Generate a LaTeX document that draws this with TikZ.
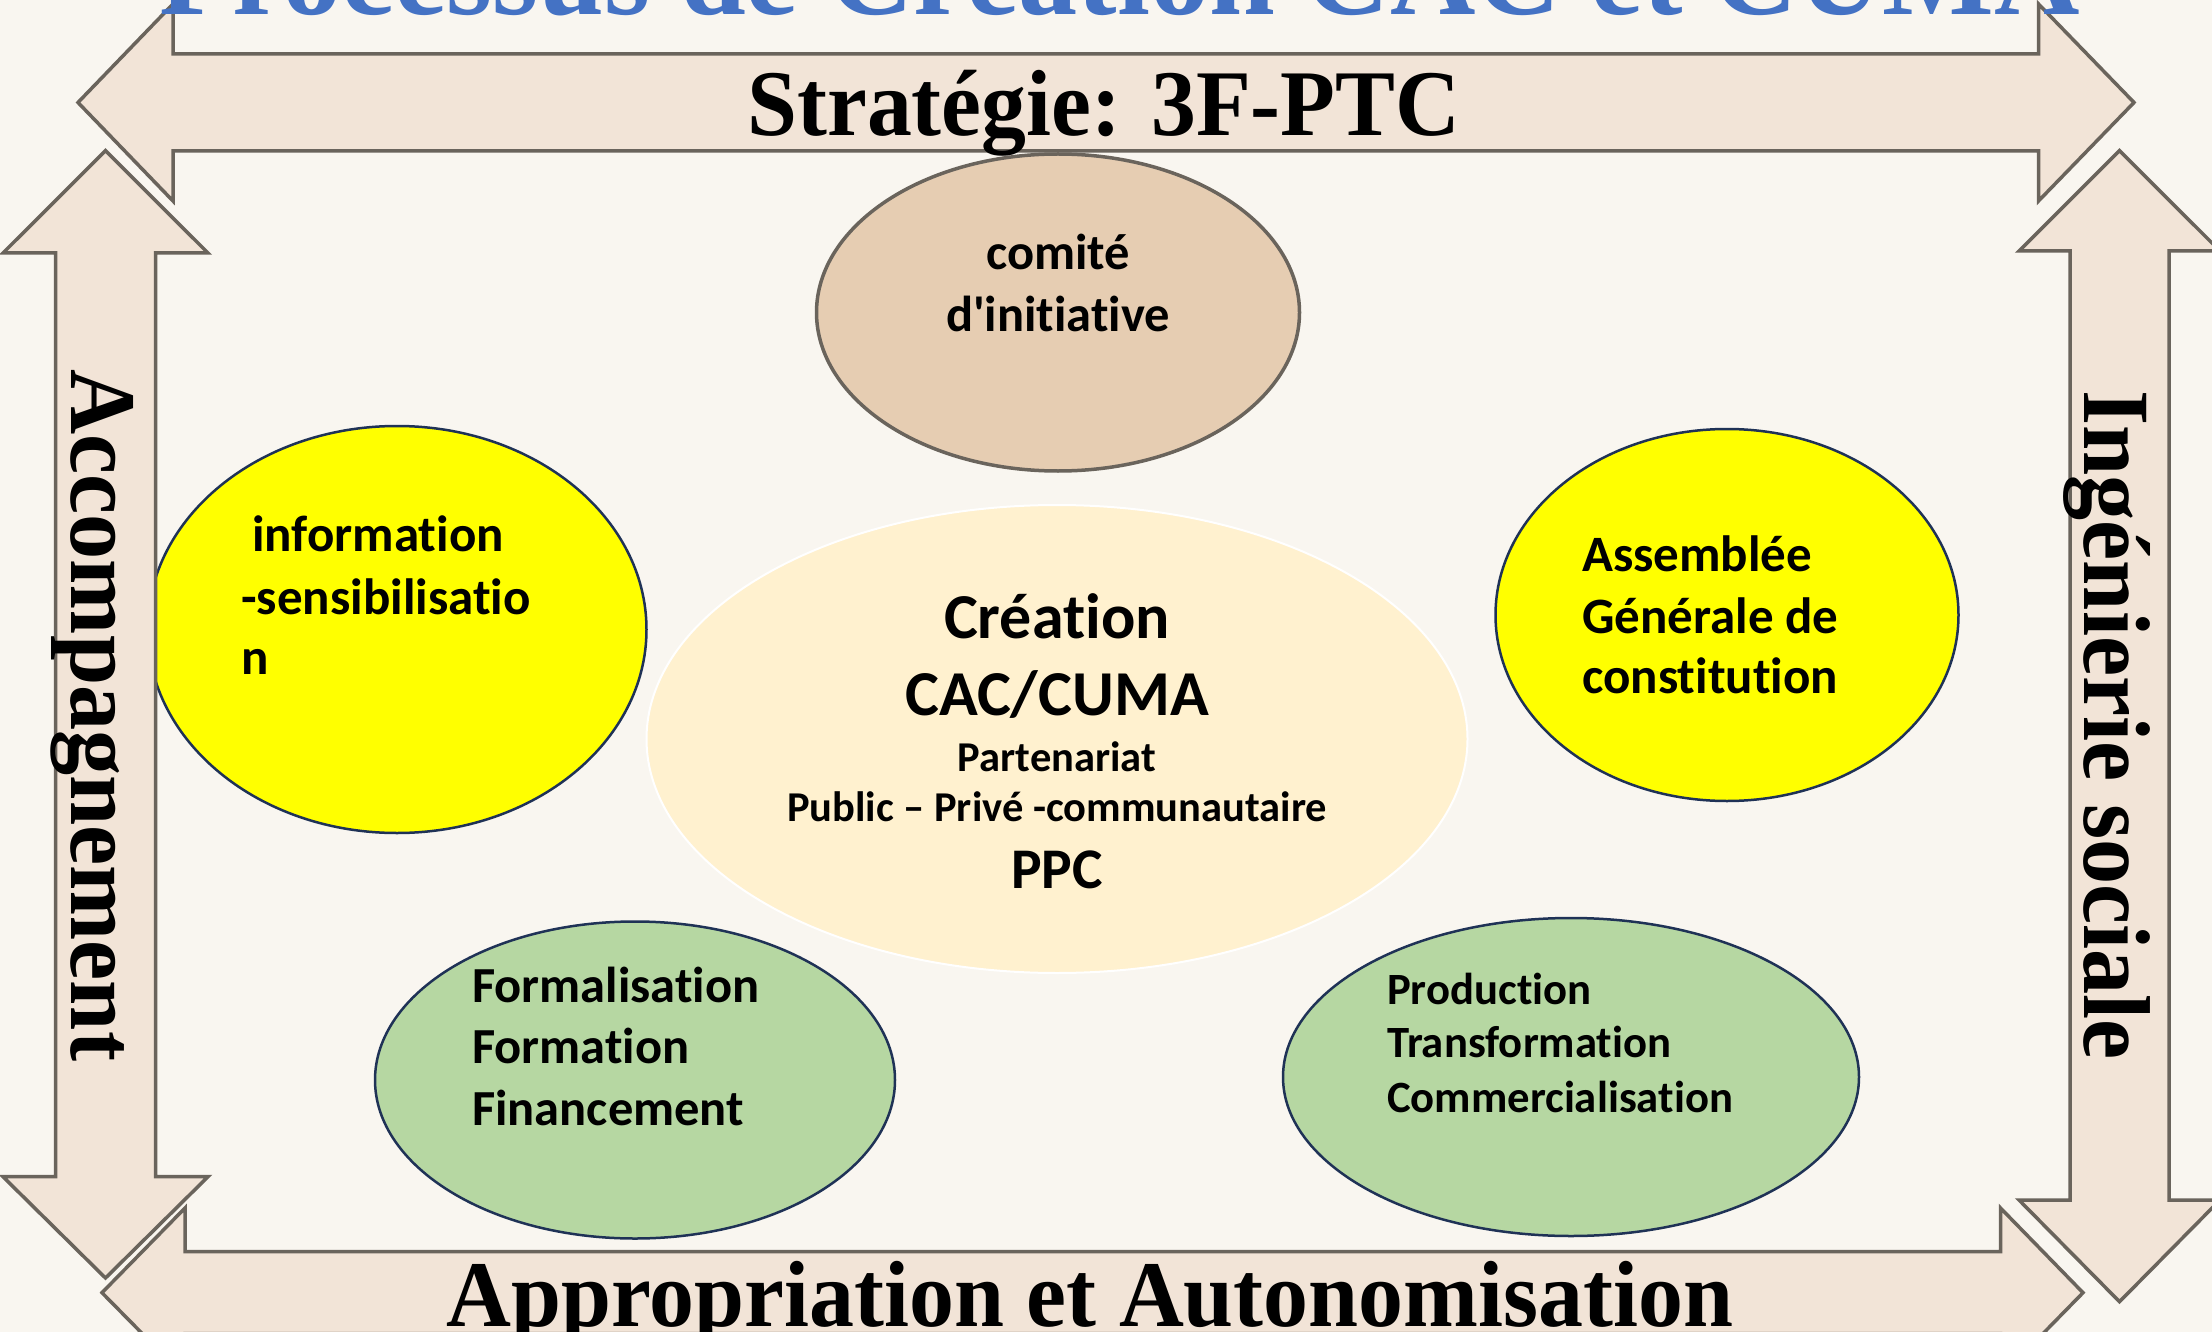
\documentclass[tikz,border=0pt]{standalone}
\usepackage{fontspec}
\setmainfont[Ligatures={TeX,NoCommon}]{Carlito}
\newfontfamily\tnr{Liberation Serif}
\usetikzlibrary{shapes.geometric}
\definecolor{bgc}{HTML}{F9F6F0}
\definecolor{arrowfill}{HTML}{F2E4D7}
\definecolor{arrowline}{HTML}{6A645C}
\definecolor{comitefill}{HTML}{E6CDB2}
\definecolor{greenfill}{HTML}{B6D7A2}
\definecolor{yellowfill}{HTML}{FFFF00}
\definecolor{navy}{HTML}{1F3256}
\definecolor{centrefill}{HTML}{FFF1CF}
\definecolor{titleblue}{HTML}{4472C4}
\begin{document}
\begin{tikzpicture}[x=1pt,y=-1pt,
  blockarrow/.style={fill=arrowfill,draw=arrowline,line width=3.5pt,line join=miter},
  bubble/.style={ellipse,inner sep=0pt,line width=2.5pt,draw=navy},
  lbl/.style={inner sep=0pt,font=\bfseries\fontsize{50.5}{60}\selectfont},
  big/.style={inner sep=0pt,font=\tnr\bfseries\fontsize{94}{110}\selectfont}
]
\useasboundingbox (0,0) rectangle (2212,1332);
\clip (0,0) rectangle (2212,1332);
\fill[bgc] (0,0) rectangle (2212,1332);

% ellipses
\node[bubble,fill=comitefill,draw=arrowline,line width=3.5pt,minimum width=483pt,minimum height=317pt] (comite) at (1058,312.5) {};
\node[bubble,fill=yellowfill,minimum width=499pt,minimum height=407pt] (info) at (397,629.5) {};
\node[bubble,fill=centrefill,draw=white,line width=2pt,minimum width=821pt,minimum height=468pt] (centre) at (1057,739) {};
\node[bubble,fill=yellowfill,minimum width=463pt,minimum height=372pt] (ag) at (1727,615) {};
\node[bubble,fill=greenfill,minimum width=520pt,minimum height=317pt] (form) at (635,1080) {};
\node[bubble,fill=greenfill,minimum width=576pt,minimum height=318pt] (prod) at (1571,1077) {};

% block arrows
\draw[blockarrow] (78,102.5) -- (173,4) -- (173,54) -- (2038.5,54) -- (2038.5,4) -- (2134,102.5) -- (2038.5,201) -- (2038.5,151) -- (173,151) -- (173,201) -- cycle;
\draw[blockarrow] (105.5,150.7) -- (208,253) -- (155.5,253) -- (155.5,1176.7) -- (208,1176.7) -- (105.5,1278) -- (3,1176.7) -- (55.5,1176.7) -- (55.5,253) -- (3,253) -- cycle;
\draw[blockarrow] (2119.5,150.7) -- (2220,251) -- (2169,251) -- (2169,1200) -- (2220,1200) -- (2119.5,1301.7) -- (2019,1200) -- (2070,1200) -- (2070,251) -- (2019,251) -- cycle;
\draw[blockarrow] (102,1292.7) -- (185,1208) -- (185,1251.7) -- (2000.5,1251.7) -- (2000.5,1208) -- (2083,1292.7) -- (2000.5,1377) -- (2000.5,1333.7) -- (185,1333.7) -- (185,1377) -- cycle;

% texts in ellipses
\node[lbl,anchor=base] (t1) at (1058,270) {comité};
\node[lbl,anchor=base] (t2) at (1058,331.7) {d\textquotesingle initiative};

\node[lbl,anchor=base west,font=\bfseries\fontsize{51}{60}\selectfont] (i1) at (252,551.4) {information};
\node[lbl,anchor=base west,font=\bfseries\fontsize{51}{60}\selectfont] (i2) at (241,614) {-sensibilisatio};
\node[lbl,anchor=base west,font=\bfseries\fontsize{51}{60}\selectfont] (i3) at (241,674.5) {n};

\node[lbl,anchor=base,font=\bfseries\fontsize{64}{72}\selectfont] (c1) at (1057,638) {Création};
\node[lbl,anchor=base,font=\bfseries\fontsize{64}{72}\selectfont] (c2) at (1057,715) {CAC/CUMA};
\node[lbl,anchor=base,font=\bfseries\fontsize{42.5}{50}\selectfont] (c3) at (1057,771.7) {Partenariat};
\node[lbl,anchor=base,font=\bfseries\fontsize{42.5}{50}\selectfont] (c4) at (1057,821.7) {Public – Privé -communautaire};
\node[lbl,anchor=base,font=\bfseries\fontsize{57.5}{66}\selectfont] (c5) at (1057,888) {PPC};

\node[lbl,anchor=base west,font=\bfseries\fontsize{51}{60}\selectfont] (a1) at (1582,571) {Assemblée};
\node[lbl,anchor=base west,font=\bfseries\fontsize{51}{60}\selectfont] (a2) at (1582,633) {Générale de};
\node[lbl,anchor=base west,font=\bfseries\fontsize{51}{60}\selectfont] (a3) at (1582,693.5) {constitution};

\node[lbl,anchor=base west] (f1) at (472,1002.7) {Formalisation};
\node[lbl,anchor=base west] (f2) at (472,1063.3) {Formation};
\node[lbl,anchor=base west] (f3) at (472,1125) {Financement};

\node[lbl,anchor=base west,font=\bfseries\fontsize{44.7}{52}\selectfont] (p1) at (1387,1004) {Production};
\node[lbl,anchor=base west,font=\bfseries\fontsize{44.7}{52}\selectfont] (p2) at (1387,1057.7) {Transformation};
\node[lbl,anchor=base west,font=\bfseries\fontsize{44.7}{52}\selectfont] (p3) at (1387,1112) {Commercialisation};

% arrow labels
\node[big,anchor=base] (strat) at (1103.8,136) {\scalebox{0.955}[1]{Stratégie: 3F-PTC}};
\node[big,anchor=base] (appro) at (1090,1326.7) {\scalebox{0.956}[1]{Appropriation et Autonomisation}};
\node[big,anchor=base,rotate=-90] (accomp) at (71.4,715.3) {\scalebox{0.96}[1]{Accompagnement}};
\node[big,anchor=base,rotate=-90,font=\tnr\bfseries\fontsize{95}{110}\selectfont] (inge) at (2084.5,725) {\scalebox{0.95}[1]{Ingénierie sociale}};

% title (cut off at top)
\node[inner sep=0pt,anchor=base,text=titleblue,font=\tnr\bfseries\fontsize{122}{140}\selectfont] (titre) at (1120,15) {\scalebox{0.97}[1]{Processus de Création CAC et CUMA}};
\end{tikzpicture}
\end{document}
